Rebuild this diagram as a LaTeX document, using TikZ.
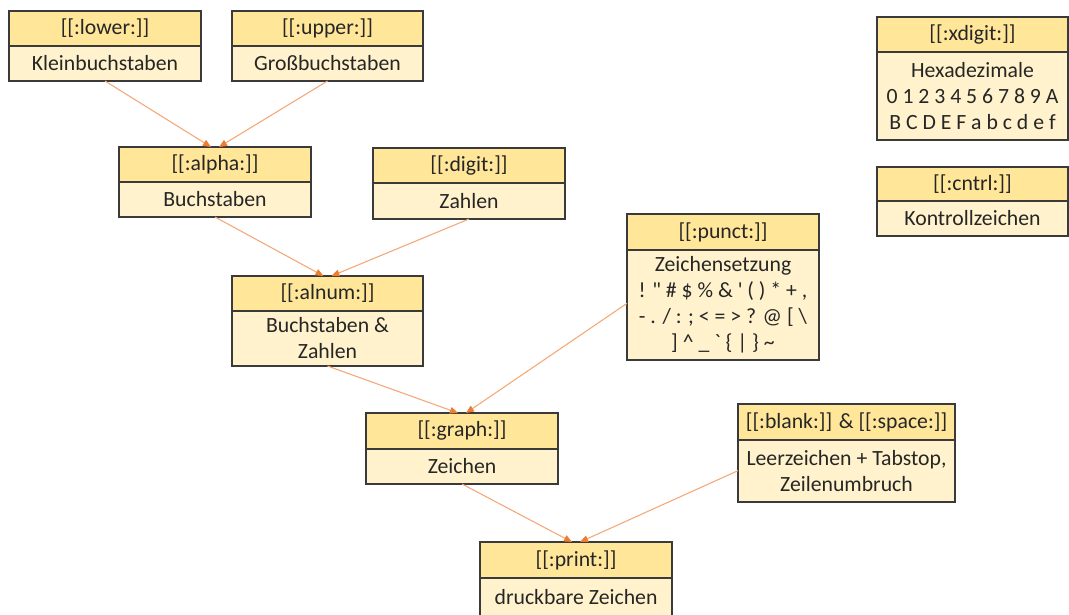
\documentclass[tikz,border=0pt]{standalone}
\usepackage{fontspec}
\setmainfont{Carlito}[Ligatures=TeXOff]
\usetikzlibrary{arrows.meta}
\definecolor{hdrfill}{HTML}{FFE699}
\definecolor{bdyfill}{HTML}{FFF2CC}
\definecolor{boxline}{HTML}{3A3A3A}
\definecolor{txt}{HTML}{262626}
\definecolor{conline}{HTML}{F4A878}
\definecolor{contip}{HTML}{ED7D31}
\tikzset{
  cell/.style={draw=boxline, line width=0.9pt, inner sep=0pt, outer sep=0pt,
    anchor=north west, align=center, text=txt,
    font=\fontsize{16.3}{19.5}\selectfont},
  hdr/.style={cell, fill=hdrfill},
  bdy/.style={cell, fill=bdyfill},
  con/.style={draw=conline, line width=0.8pt,
    -{Triangle[length=6pt,width=5pt,fill=contip,color=contip]}},
}
% #1 name, #2 x1, #3 y1, #4 ysplit, #5 x2, #6 y2, #7 header, #8 body
\newcommand\umlcell[8]{%
  \node[hdr, minimum width={(#5-#2)*0.75pt}, minimum height={(#4-#3)*0.75pt}] (#1h) at (#2,#3) {#7};
  \node[bdy, minimum width={(#5-#2)*0.75pt}, minimum height={(#6-#4)*0.75pt}] (#1) at (#2,#4) {#8};
}
\begin{document}
\begin{tikzpicture}[x=0.75pt,y=-0.75pt]
\useasboundingbox[fill=white] (0,0) rectangle (1069,614);
\umlcell{lower}{9}{11}{46}{201}{81}{[[:lower:]]}{Kleinbuchstaben}
\umlcell{upper}{232}{11}{46}{423}{81}{[[:upper:]]}{Großbuchstaben}
\umlcell{alpha}{119}{147}{182}{311}{217}{[[:alpha:]]}{Buchstaben}
\umlcell{digit}{373}{148}{183}{565}{219}{[[:digit:]]}{Zahlen}
\umlcell{alnum}{232}{276}{311}{423}{366}{[[:alnum:]]}{Buchstaben \&\\Zahlen}
\umlcell{punct}{627}{214}{250}{819}{360}{[[:punct:]]}{Zeichensetzung\\! \symbol{34} \# \$ \% \& \symbol{39} ( ) * + ,\\- . / : ; < = > ? @ [ \textbackslash\\\hphantom{-}] \^{} \_ \symbol{96} \{ | \} \symbol{126}\hphantom{-}}
\umlcell{graph}{366}{413}{449}{558}{484}{[[:graph:]]}{Zeichen}
\umlcell{blank}{738}{404}{440}{955}{502}{[[:blank:]] \& [[:space:]]}{Leerzeichen + Tabstop,\\Zeilenumbruch}
\umlcell{print}{480}{542}{578}{672}{630}{[[:print:]]}{}
\node[text=txt, font=\fontsize{16.3}{19.5}\selectfont] (printt) at (576,597) {druckbare Zeichen};
\umlcell{xdigit}{877}{17}{52}{1068}{140}{[[:xdigit:]]}{Hexadezimale\\0 1 2 3 4 5 6 7 8 9 A\\B C D E F a b c d e f}
\umlcell{cntrl}{877}{167}{201}{1068}{236}{[[:cntrl:]]}{Kontrollzeichen}

\draw[con] (lower.south) -- ([xshift=-3pt]alphah.north);
\draw[con] (upper.south) -- ([xshift=3pt]alphah.north);
\draw[con] (alpha.south) -- ([xshift=-3pt]alnumh.north);
\draw[con] (digit.south) -- ([xshift=3pt]alnumh.north);
\draw[con] (alnum.south) -- ([xshift=-3pt]graphh.north);
\draw[con] ([yshift=-40pt]punct.north west) -- ([xshift=3pt]graphh.north);
\draw[con] (graph.south) -- ([xshift=-3pt]printh.north);
\draw[con] ([yshift=-23pt]blank.north west) -- ([xshift=3pt]printh.north);
\end{tikzpicture}
\end{document}
